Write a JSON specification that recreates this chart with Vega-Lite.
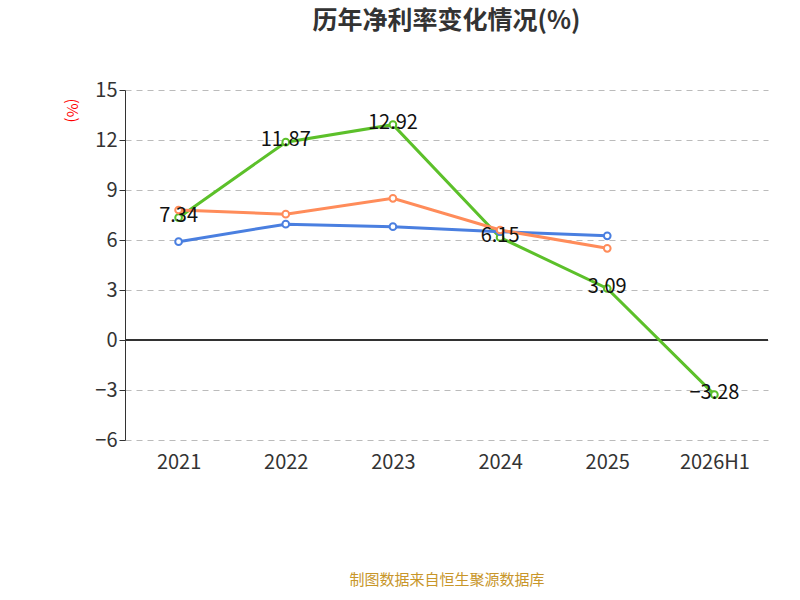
{
  "$schema": "https://vega.github.io/schema/vega-lite/v6.json",
  "autosize": {"type": "none"},
  "width": 643,
  "height": 350,
  "padding": {"left": 125, "top": 90, "right": 32, "bottom": 160},
  "background": "white",
  "title": {
    "text": "历年净利率变化情况(%)",
    "anchor": "middle",
    "fontSize": 25,
    "fontWeight": "bold",
    "color": "#333333",
    "font": "Noto Sans CJK SC",
    "offset": 46
  },
  "config": {
    "view": {"stroke": null},
    "font": "Noto Sans CJK SC"
  },
  "data": {
    "values": [
      {"year": "2021", "series": "公司净利率", "value": 7.34},
      {"year": "2022", "series": "公司净利率", "value": 11.87},
      {"year": "2023", "series": "公司净利率", "value": 12.92},
      {"year": "2024", "series": "公司净利率", "value": 6.15},
      {"year": "2025", "series": "公司净利率", "value": 3.09},
      {"year": "2026H1", "series": "公司净利率", "value": -3.28},
      {"year": "2021", "series": "行业均值", "value": 5.9},
      {"year": "2022", "series": "行业均值", "value": 6.95},
      {"year": "2023", "series": "行业均值", "value": 6.8},
      {"year": "2024", "series": "行业均值", "value": 6.5},
      {"year": "2025", "series": "行业均值", "value": 6.25},
      {"year": "2021", "series": "行业中位数", "value": 7.8},
      {"year": "2022", "series": "行业中位数", "value": 7.55},
      {"year": "2023", "series": "行业中位数", "value": 8.5},
      {"year": "2024", "series": "行业中位数", "value": 6.6},
      {"year": "2025", "series": "行业中位数", "value": 5.5}
    ]
  },
  "encoding": {
    "x": {
      "field": "year",
      "type": "ordinal",
      "sort": null,
      "scale": {"type": "point", "padding": 0.5},
      "axis": {
        "title": "制图数据来自恒生聚源数据库",
        "titleColor": "#c8962a",
        "titleFontSize": 15,
        "titleFontWeight": "normal",
        "titlePadding": 100,
        "labelAngle": 0,
        "labelFontSize": 20,
        "labelColor": "#333333",
        "labelPadding": 12,
        "domain": false,
        "ticks": false,
        "grid": false
      }
    },
    "y": {
      "field": "value",
      "type": "quantitative",
      "scale": {"domain": [-6, 15], "nice": false},
      "axis": {
        "values": [-6, -3, 0, 3, 6, 9, 12, 15],
        "title": "(%)",
        "titleColor": "red",
        "titleFontSize": 15,
        "titleFontWeight": "normal",
        "titleAngle": 90,
        "titleX": -62,
        "titleY": 20,
        "labelFontSize": 20,
        "labelColor": "#333333",
        "domainColor": "#333333",
        "tickColor": "#333333",
        "tickSize": 6,
        "gridDash": [6, 5],
        "gridColor": "#bbbbbb"
      }
    }
  },
  "layer": [
    {
      "mark": {"type": "rule", "color": "#333333", "strokeWidth": 1.5},
      "encoding": {"y": {"datum": 0}, "x": {"value": 0}, "x2": {"value": 643}}
    },
    {
      "mark": {"type": "line", "strokeWidth": 3},
      "encoding": {
        "color": {
          "field": "series",
          "type": "nominal",
          "sort": ["公司净利率", "行业均值", "行业中位数"],
          "scale": {"domain": ["公司净利率", "行业均值", "行业中位数"], "range": ["#5cc02a", "#4a7fe0", "#ff8c5a"]},
          "legend": null
        }
      }
    },
    {
      "mark": {"type": "point", "filled": false, "fill": "white", "size": 45, "strokeWidth": 2, "opacity": 1},
      "encoding": {
        "stroke": {
          "field": "series",
          "type": "nominal",
          "scale": {"domain": ["公司净利率", "行业均值", "行业中位数"], "range": ["#5cc02a", "#4a7fe0", "#ff8c5a"]},
          "legend": {
            "title": null,
            "orient": "none",
            "direction": "horizontal",
            "legendX": 0,
            "legendY": 435,
            "labelFontSize": 20,
            "labelColor": "#333333",
            "symbolType": "circle",
            "symbolSize": 250,
            "symbolFillColor": "white",
            "symbolStrokeWidth": 2,
            "columnPadding": 30
          }
        }
      }
    },
    {
      "transform": [{"filter": "datum.series === '公司净利率'"}],
      "mark": {"type": "text", "fontSize": 20, "color": "#111111", "dy": -2},
      "encoding": {"text": {"field": "value", "type": "quantitative", "format": ".2f"}}
    }
  ]
}
